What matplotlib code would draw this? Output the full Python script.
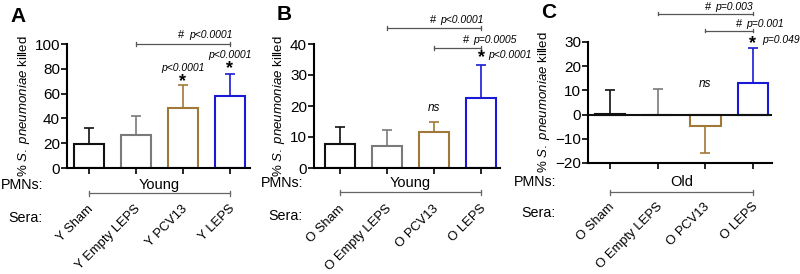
import matplotlib
matplotlib.use('Agg')
import matplotlib.pyplot as plt
import matplotlib.transforms as mtrans

plt.rcParams['font.family'] = ['Liberation Sans', 'DejaVu Sans']
plt.rcParams['mathtext.fontset'] = 'custom'
plt.rcParams['mathtext.rm'] = 'Liberation Sans'
plt.rcParams['mathtext.it'] = 'Liberation Sans:italic'

# data
colors = ['#111111', '#7a7a7a', '#a07838', '#1a1ad6']

a_labels = ['Y Sham', 'Y Empty LEPS', 'Y PCV13', 'Y LEPS']
a_mean = [19, 27, 48, 58]
a_err = [13, 15, 19, 18]
a_dir = [1, 1, 1, 1]

b_labels = ['O Sham', 'O Empty LEPS', 'O PCV13', 'O LEPS']
b_mean = [7.8, 7.0, 11.5, 22.7]
b_err = [5.5, 5.3, 3.2, 10.6]
b_dir = [1, 1, 1, 1]

c_labels = ['O Sham', 'O Empty LEPS', 'O PCV13', 'O LEPS']
c_mean = [0.4, -0.2, -4.7, 13.2]
c_err = [9.6, 10.7, 11.1, 14.3]
c_dir = [1, 1, -1, 1]

W, H = 800, 274
fig = plt.figure(figsize=(8, 2.74), dpi=100)


def px_ax(l, r, b, t):
    return fig.add_axes([l / W, 1 - b / H, (r - l) / W, (b - t) / H])


def fy(py):
    return 1 - py / H


def draw_panel(ax, mean, err, edir, ylim, yticks, xlim):
    x = range(len(mean))
    for i in x:
        ax.bar(i, mean[i], width=0.64, facecolor='white', edgecolor=colors[i], linewidth=1.5, zorder=2)
        if edir[i] > 0:
            yerr = [[0], [err[i]]]
        else:
            yerr = [[err[i]], [0]]
        ax.errorbar(i, mean[i], yerr=yerr, color=colors[i], capsize=3.8, elinewidth=1.2, capthick=1.2, zorder=1)
    ax.set_xlim(*xlim)
    ax.set_ylim(*ylim)
    ax.set_yticks(yticks)
    ax.set_xticks(list(x))
    ax.set_xticklabels([])
    for s in ['top', 'right']:
        ax.spines[s].set_visible(False)
    ax.spines['left'].set_linewidth(1.5)
    ax.spines['bottom'].set_linewidth(1.5)
    ax.tick_params(axis='both', width=1.2, length=4, labelsize=11, pad=1)
    ax.set_ylabel(r'% $\it{S.\ pneumoniae}$ killed', fontsize=9.5, labelpad=2)


def bottom_rows(ax, labels, group, pmn_y, line_y, lab_y, sera_y, head_x):
    tr = mtrans.blended_transform_factory(ax.transData, fig.transFigure)
    fig.text(head_x / W, fy(pmn_y), 'PMNs:', fontsize=10.3, ha='right', va='center')
    fig.text(head_x / W, fy(sera_y), 'Sera:', fontsize=10.3, ha='right', va='center')
    ax.text(1.5, fy(pmn_y), group, transform=tr, fontsize=10.5, ha='center', va='center')
    ax.plot([0, 3], [fy(line_y)] * 2, transform=tr, color='#666666', lw=0.9, clip_on=False)
    for xx in [0, 3]:
        ax.plot([xx, xx], [fy(line_y - 2.5), fy(line_y + 2.5)], transform=tr, color='#666666', lw=0.9, clip_on=False)
    for i, lab in enumerate(labels):
        ax.text(i + 0.06, fy(lab_y), lab, transform=tr, fontsize=9.4, rotation=45,
                rotation_mode='anchor', ha='right', va='center')


def bracket(ax, x0, x1, y, text, tx, ha, dy, ty):
    ax.plot([x0, x1], [y, y], color='#555555', lw=0.9, clip_on=False)
    for xx in [x0, x1]:
        ax.plot([xx, xx], [y - dy, y + dy], color='#555555', lw=0.9, clip_on=False)
    t = ax.text(tx, ty, text, fontsize=7.5, fontstyle='italic', ha=ha, va='center')
    ax.annotate('#', xy=(0, 0.5), xycoords=t, xytext=(-3, 0), textcoords='offset points',
                fontsize=8, ha='right', va='center')


# Panel A
axA = px_ax(67, 250, 168, 44)
draw_panel(axA, a_mean, a_err, a_dir, (0, 100), [0, 20, 40, 60, 80, 100], (-0.47, 3.43))
axA.text(2, 70, '*', fontsize=13, fontweight='bold', ha='center', va='center')
axA.text(2, 81, 'p<0.0001', fontsize=7.5, fontstyle='italic', ha='center', va='center')
axA.text(3, 80, '*', fontsize=13, fontweight='bold', ha='center', va='center')
axA.text(3, 91, 'p<0.0001', fontsize=7.5, fontstyle='italic', ha='center', va='center')
bracket(axA, 1, 3, 100, 'p<0.0001', 3.05, 'right', 1.5, 107)
bottom_rows(axA, a_labels, 'Young', 185, 193, 207, 218, 43)
fig.text(10 / W, fy(17), 'A', fontsize=15, fontweight='bold', va='center', ha='left')

# Panel B
axB = px_ax(314, 500, 168, 44)
draw_panel(axB, b_mean, b_err, b_dir, (0, 40), [0, 10, 20, 30, 40], (-0.55, 3.4))
axB.text(2, 19.5, 'ns', fontsize=8.5, fontstyle='italic', ha='center', va='center')
axB.text(3, 35.5, '*', fontsize=13, fontweight='bold', ha='center', va='center')
axB.text(3.15, 36.5, 'p<0.0001', fontsize=7.5, fontstyle='italic', ha='left', va='center')
bracket(axB, 1, 3, 45.2, 'p<0.0001', 3.05, 'right', 0.6, 47.8)
bracket(axB, 2, 3, 38.7, 'p=0.0005', 3.3, 'center', 0.6, 41.2)
bottom_rows(axB, b_labels, 'Young', 183, 192, 207, 216, 303)
fig.text(277 / W, fy(14), 'B', fontsize=15, fontweight='bold', va='center', ha='left')

# Panel C
axC = px_ax(588, 772, 163, 42)
draw_panel(axC, c_mean, c_err, c_dir, (-20, 30), [-20, -10, 0, 10, 20, 30], (-0.46, 3.4))
axC.axhline(0, color='#111111', lw=1.5, zorder=3)
axC.text(2, 12.8, 'ns', fontsize=8.5, fontstyle='italic', ha='center', va='center')
axC.text(3, 29.3, '*', fontsize=13, fontweight='bold', ha='center', va='center')
axC.text(3.2, 30.8, 'p=0.049', fontsize=7.5, fontstyle='italic', ha='left', va='center')
bracket(axC, 1, 3, 41.7, 'p=0.003', 3.0, 'right', 0.7, 44.5)
bracket(axC, 2, 3, 34.7, 'p=0.001', 3.25, 'center', 0.7, 37.6)
bottom_rows(axC, c_labels, 'Old', 182, 192, 205, 213, 556)
fig.text(541 / W, fy(13), 'C', fontsize=15, fontweight='bold', va='center', ha='left')

fig.savefig('out.png', dpi=100)
